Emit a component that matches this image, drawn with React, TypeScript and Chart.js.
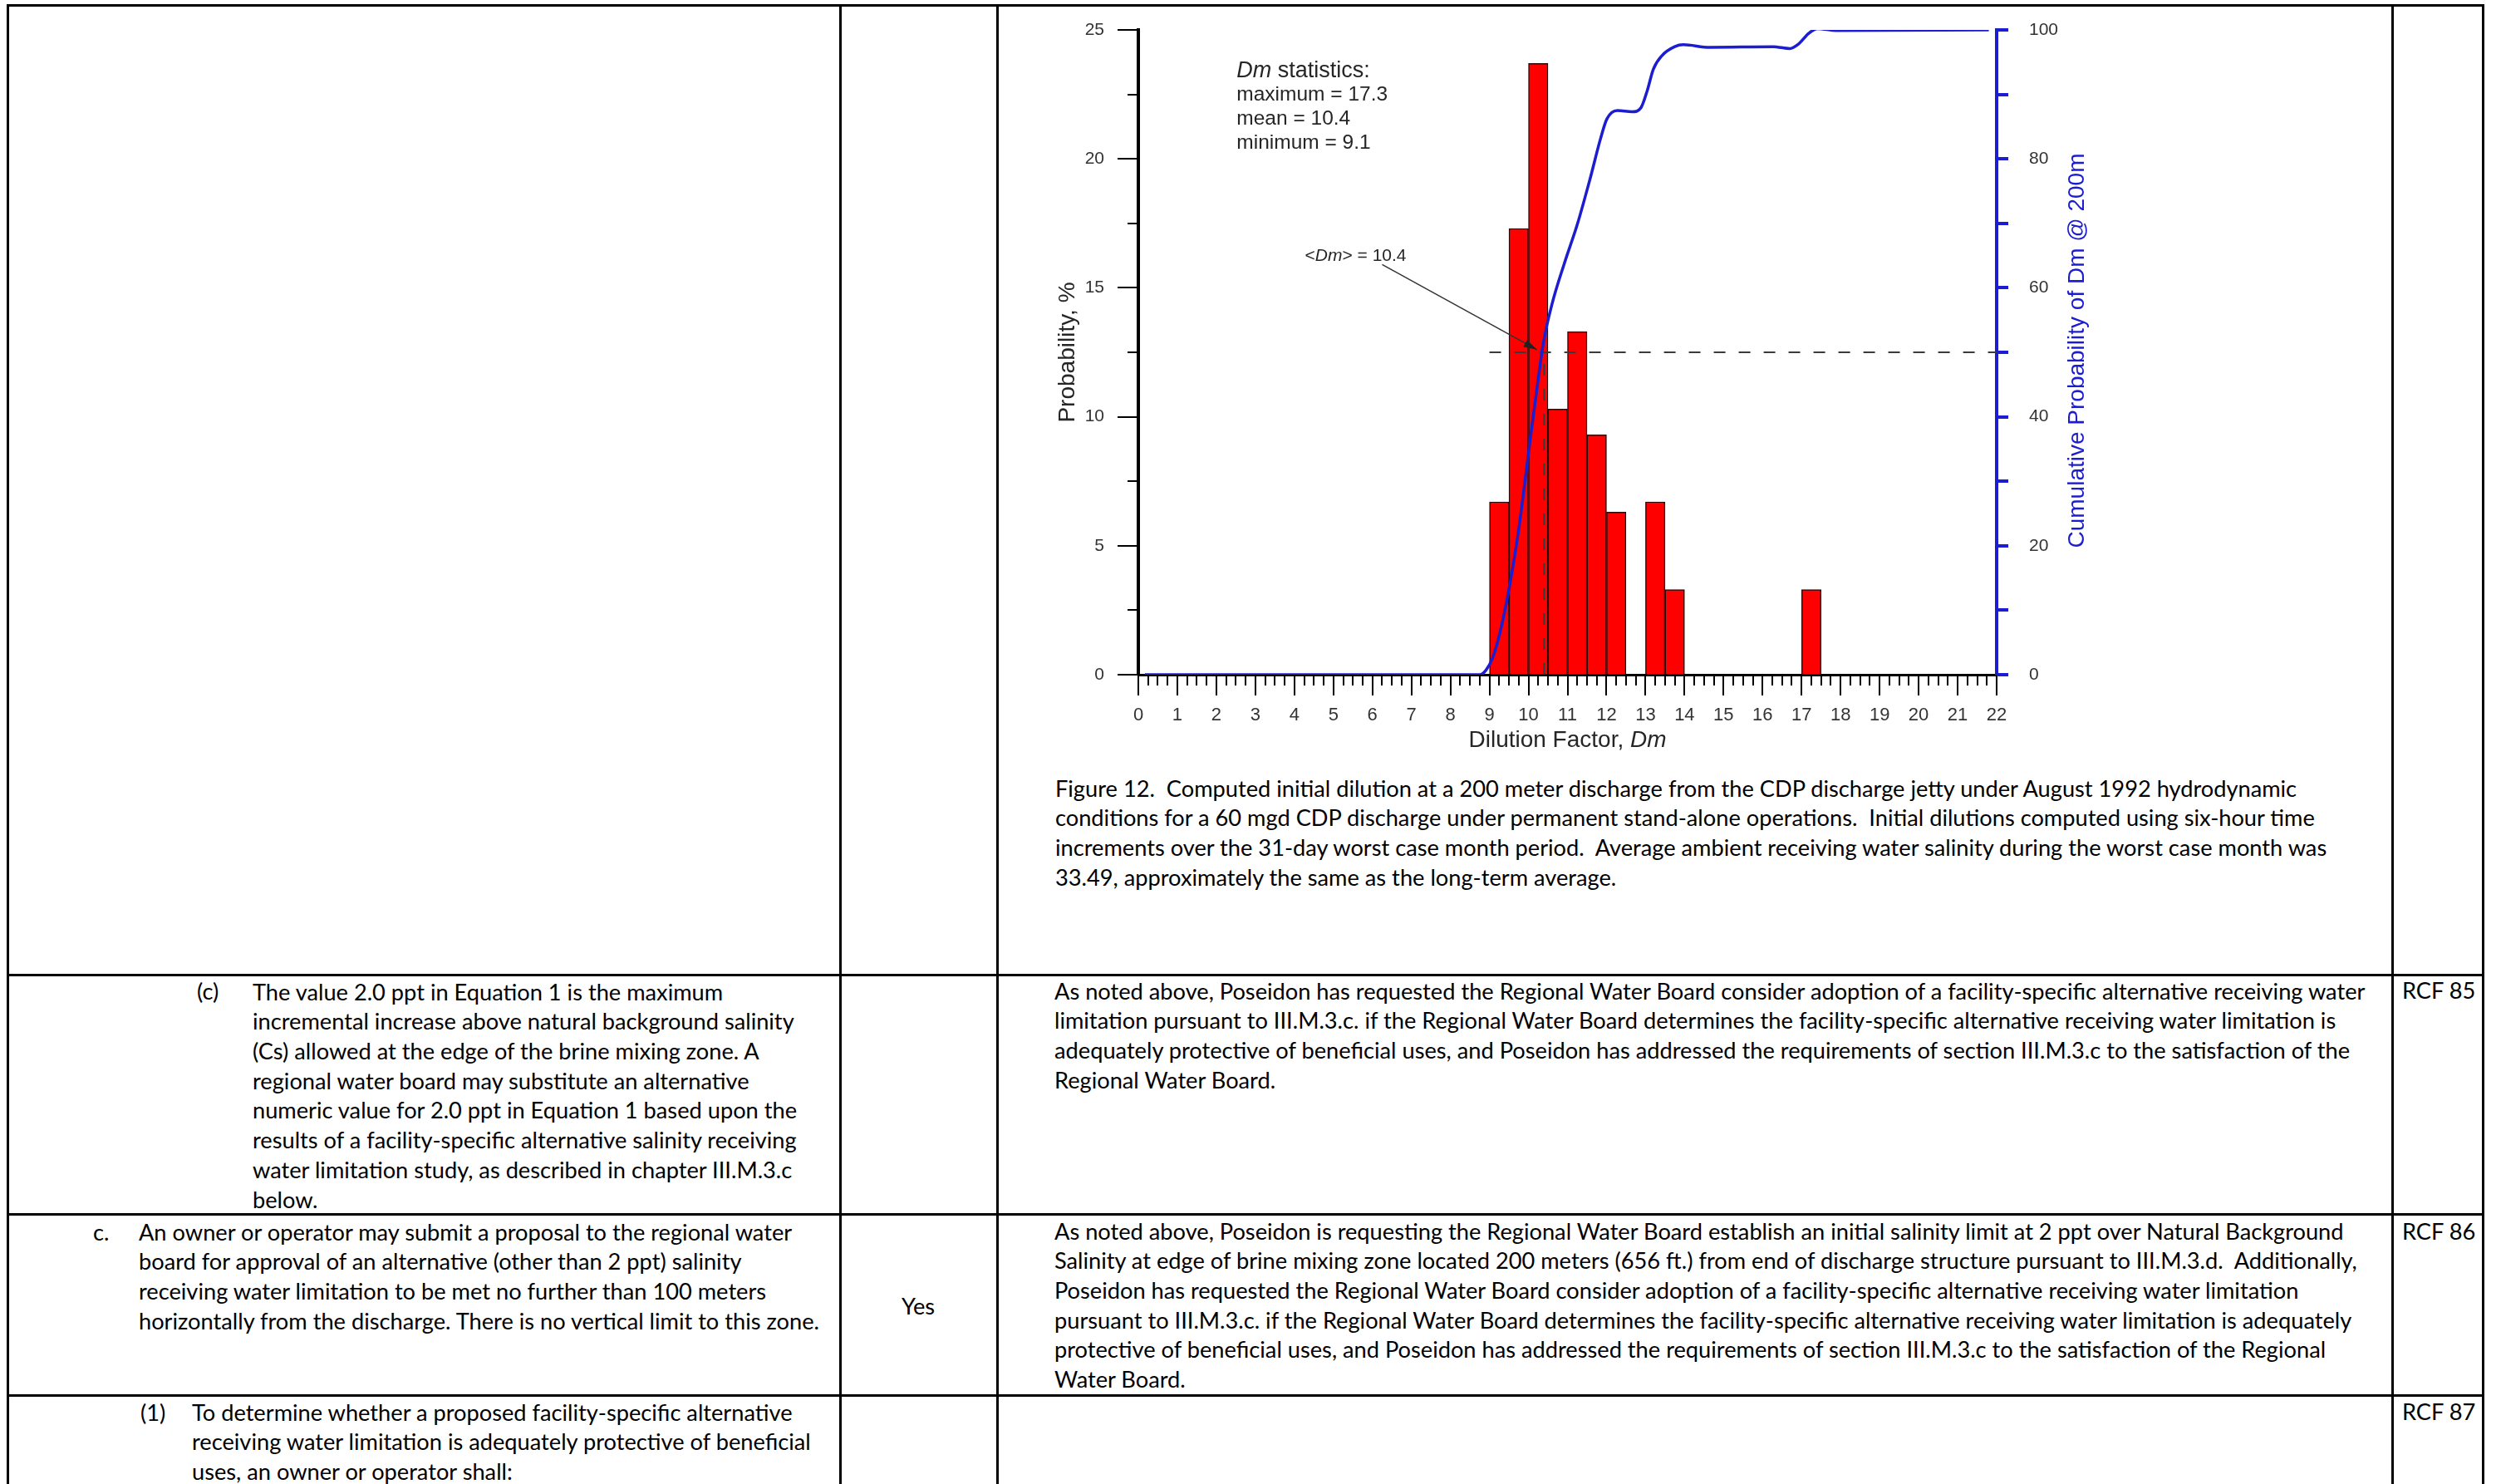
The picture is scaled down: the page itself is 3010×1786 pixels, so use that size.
import React, { useEffect, useRef, useMemo } from 'react';
import { Chart, registerables } from 'chart.js';

Chart.register(...registerables);

// ---------------- chart data ----------------
const binCenters = [9.25, 9.75, 10.25, 10.75, 11.25, 11.75, 12.25, 13.25, 13.75, 17.25];
const binProbability = [6.7, 17.3, 23.7, 10.3, 13.3, 9.3, 6.3, 6.7, 3.3, 3.3];

const cumDm = [0.17, 2, 4, 6, 8, 8.75, 8.91, 9.08, 9.24, 9.4, 9.56, 9.73, 9.89, 10.05, 10.22, 10.38, 10.6, 10.92, 11.25, 11.57, 11.85, 12.01, 12.28, 12.66, 12.88, 13.04, 13.2, 13.42, 13.75, 13.97, 14.64, 16.27, 16.7, 16.92, 17.19, 17.41, 17.89, 21.8];
const cumProbability = [0, 0, 0, 0, 0, 0, 0.7, 2.6, 5.8, 10.1, 15.3, 21.7, 29, 36.8, 44.5, 51.4, 57.4, 63.8, 69.8, 76.7, 83.2, 86.2, 87.5, 87.3, 87.9, 90.5, 93.9, 96.0, 97.4, 97.7, 97.3, 97.4, 97.1, 97.8, 99.5, 100.2, 99.9, 100];

const meanDm = 10.4;
const medianCum = 50;
const medianLineStart = 9;
const xMin = 0;
const xMax = 22;
const probMax = 25;
const cumMax = 100;

const statsTitle = 'statistics:';
const statsLines = ['maximum = 17.3', 'mean = 10.4', 'minimum = 9.1'];
const meanLabel = '> = 10.4';
const xTitle = 'Dilution Factor, ';
const yTitle = 'Probability, %';
const y2Title = 'Cumulative Probability of Dm @ 200m';

// ---------------- table text ----------------
const captionLines = [
  'Figure 12.  Computed initial dilution at a 200 meter discharge from the CDP discharge jetty under August 1992 hydrodynamic',
  'conditions for a 60 mgd CDP discharge under permanent stand-alone operations.  Initial dilutions computed using six-hour time',
  'increments over the 31-day worst case month period.  Average ambient receiving water salinity during the worst case month was',
  '33.49, approximately the same as the long-term average.',
];
const rowCLeft = [
  'The value 2.0 ppt in Equation 1 is the maximum',
  'incremental increase above natural background salinity',
  '(Cs) allowed at the edge of the brine mixing zone. A',
  'regional water board may substitute an alternative',
  'numeric value for 2.0 ppt in Equation 1 based upon the',
  'results of a facility-specific alternative salinity receiving',
  'water limitation study, as described in chapter III.M.3.c',
  'below.',
];
const rowCRight = [
  'As noted above, Poseidon has requested the Regional Water Board consider adoption of a facility-specific alternative receiving water',
  'limitation pursuant to III.M.3.c. if the Regional Water Board determines the facility-specific alternative receiving water limitation is',
  'adequately protective of beneficial uses, and Poseidon has addressed the requirements of section III.M.3.c to the satisfaction of the',
  'Regional Water Board.',
];
const rowDotCLeft = [
  'An owner or operator may submit a proposal to the regional water',
  'board for approval of an alternative (other than 2 ppt) salinity',
  'receiving water limitation to be met no further than 100 meters',
  'horizontally from the discharge. There is no vertical limit to this zone.',
];
const rowDotCRight = [
  'As noted above, Poseidon is requesting the Regional Water Board establish an initial salinity limit at 2 ppt over Natural Background',
  'Salinity at edge of brine mixing zone located 200 meters (656 ft.) from end of discharge structure pursuant to III.M.3.d.  Additionally,',
  'Poseidon has requested the Regional Water Board consider adoption of a facility-specific alternative receiving water limitation',
  'pursuant to III.M.3.c. if the Regional Water Board determines the facility-specific alternative receiving water limitation is adequately',
  'protective of beneficial uses, and Poseidon has addressed the requirements of section III.M.3.c to the satisfaction of the Regional',
  'Water Board.',
];
const row1Left = [
  'To determine whether a proposed facility-specific alternative',
  'receiving water limitation is adequately protective of beneficial',
  'uses, an owner or operator shall:',
];

const BLUE = '#1c1cd0';
const INK = '#262626';
const AXIS_FONT = '"Liberation Sans", Arial, sans-serif';
const BODY_FONT = 'Lato, "Open Sans", sans-serif';
const BODY_SIZE = 26;
const LINE_STEP = 35.7;

type Part = { t: string; i?: boolean };

function drawRich(ctx: CanvasRenderingContext2D, parts: Part[], x: number, y: number, size: number, align: 'left' | 'center') {
  const widths = parts.map((p) => {
    ctx.font = `${p.i ? 'italic ' : ''}${size}px ${AXIS_FONT}`;
    return ctx.measureText(p.t).width;
  });
  const total = widths.reduce((a, b) => a + b, 0);
  let cx = align === 'center' ? x - total / 2 : x;
  ctx.textAlign = 'left';
  ctx.textBaseline = 'middle';
  parts.forEach((p, idx) => {
    ctx.font = `${p.i ? 'italic ' : ''}${size}px ${AXIS_FONT}`;
    ctx.fillText(p.t, cx, y);
    cx += widths[idx];
  });
}

const decorPlugin = {
  id: 'decor',
  afterDraw(chart: any) {
    const { ctx, chartArea } = chart;
    const xs = chart.scales.x;
    const ys = chart.scales.y;
    const y2 = chart.scales.y2;
    ctx.save();
    // left ticks
    ctx.strokeStyle = '#000';
    ctx.lineWidth = 2;
    for (let v = 0; v <= probMax + 1e-6; v += 2.5) {
      const py = Math.round(ys.getPixelForValue(v));
      const len = Math.abs(v % 5) < 1e-6 ? 25 : 13;
      ctx.beginPath();
      ctx.moveTo(chartArea.left - len, py);
      ctx.lineTo(chartArea.left, py);
      ctx.stroke();
    }
    // bottom ticks
    for (let v = xMin; v <= xMax + 1e-6; v += 0.25) {
      const px = Math.round(xs.getPixelForValue(v));
      const len = Math.abs(v - Math.round(v)) < 1e-6 ? 25 : 13;
      ctx.beginPath();
      ctx.moveTo(px, chartArea.bottom);
      ctx.lineTo(px, chartArea.bottom + len);
      ctx.stroke();
    }
    // right ticks
    ctx.strokeStyle = BLUE;
    ctx.lineWidth = 4;
    for (let v = 0; v <= cumMax + 1e-6; v += 10) {
      const py = Math.round(y2.getPixelForValue(v));
      ctx.beginPath();
      ctx.moveTo(chartArea.right, py);
      ctx.lineTo(chartArea.right + 14, py);
      ctx.stroke();
    }
    // titles
    ctx.fillStyle = INK;
    const midY = (chartArea.top + chartArea.bottom) / 2;
    drawRich(ctx, [{ t: xTitle }, { t: 'Dm', i: true }], (chartArea.left + chartArea.right) / 2, chartArea.bottom + 79, 28, 'center');
    ctx.save();
    ctx.translate(chartArea.left - 85, midY);
    ctx.rotate(-Math.PI / 2);
    drawRich(ctx, [{ t: yTitle }], 0, 0, 28, 'center');
    ctx.restore();
    ctx.save();
    ctx.fillStyle = BLUE;
    ctx.translate(chartArea.right + 97, midY - 2);
    ctx.rotate(-Math.PI / 2);
    drawRich(ctx, [{ t: y2Title }], 0, 0, 28, 'center');
    ctx.restore();

    // statistics box
    ctx.fillStyle = INK;
    const sx = xs.getPixelForValue(2.52);
    const sy = ys.getPixelForValue(23.41);
    drawRich(ctx, [{ t: 'Dm', i: true }, { t: ' ' + statsTitle }], sx, sy, 27, 'left');
    statsLines.forEach((s, i) => {
      drawRich(ctx, [{ t: s }], sx, sy + 28.5 + i * 29.3, 24.5, 'left');
    });

    // mean label + arrow
    drawRich(ctx, [{ t: '<' }, { t: 'Dm', i: true }, { t: meanLabel }], xs.getPixelForValue(5.57), ys.getPixelForValue(16.23), 21, 'center');
    const ax1 = xs.getPixelForValue(6.25), ay1 = ys.getPixelForValue(15.9);
    const ax2 = xs.getPixelForValue(10.22), ay2 = ys.getPixelForValue(12.6);
    ctx.strokeStyle = '#333';
    ctx.fillStyle = '#222';
    ctx.lineWidth = 1.5;
    ctx.beginPath();
    ctx.moveTo(ax1, ay1);
    ctx.lineTo(ax2, ay2);
    ctx.stroke();
    const ang = Math.atan2(ay2 - ay1, ax2 - ax1);
    const hl = 17;
    ctx.beginPath();
    ctx.moveTo(ax2, ay2);
    ctx.lineTo(ax2 - hl * Math.cos(ang - 0.28), ay2 - hl * Math.sin(ang - 0.28));
    ctx.lineTo(ax2 - hl * Math.cos(ang + 0.28), ay2 - hl * Math.sin(ang + 0.28));
    ctx.closePath();
    ctx.fill();
    ctx.restore();
  },
};

const CANVAS_LEFT = 1205;
const CANVAS_TOP = 10;
const CANVAS_W = 1670;
const CANVAS_H = 900;

function TextLine({ x, y, text, k, center }: { x: number; y: number; text: string; k: number; center?: boolean }) {
  return (
    <div
      style={{
        position: 'absolute',
        left: x,
        top: y - 16.4,
        fontFamily: BODY_FONT,
        fontSize: BODY_SIZE,
        lineHeight: 1.2,
        whiteSpace: 'pre',
        color: '#000',
        transform: center ? `translateX(-50%) scaleX(${k})` : `scaleX(${k})`,
        transformOrigin: center ? 'center center' : 'left center',
      }}
    >
      {text}
    </div>
  );
}

function Block({ x, y0, lines, k }: { x: number; y0: number; lines: string[]; k: number }) {
  return (
    <>
      {lines.map((t, i) => (
        <TextLine key={i} x={x} y={y0 + i * LINE_STEP} text={t} k={k} />
      ))}
    </>
  );
}

export default function App() {
  const canvasRef = useRef<HTMLCanvasElement>(null);

  const k = useMemo(() => {
    const c = document.createElement('canvas').getContext('2d');
    if (!c) return 0.89;
    c.font = `${BODY_SIZE}px ${BODY_FONT}`;
    const w = c.measureText(rowCRight[0]).width;
    return w > 0 ? 1580 / w : 0.89;
  }, []);

  useEffect(() => {
    const canvas = canvasRef.current;
    if (!canvas) return;
    const noVPad = (w: number) => (s: any) => {
      s.width = w;
      s.paddingTop = 0;
      s.paddingBottom = 0;
    };
    const chart = new Chart(canvas, {
      type: 'bar',
      data: {
        datasets: [
          {
            type: 'line',
            label: 'Cumulative probability',
            data: cumDm.map((x, i) => ({ x, y: cumProbability[i] })),
            yAxisID: 'y2',
            borderColor: BLUE,
            borderWidth: 3.5,
            pointRadius: 0,
            cubicInterpolationMode: 'monotone',
            fill: false,
            order: 0,
          },
          {
            type: 'line',
            label: 'Median level',
            data: [{ x: medianLineStart, y: medianCum }, { x: xMax, y: medianCum }],
            yAxisID: 'y2',
            borderColor: '#3a3a3a',
            borderWidth: 2,
            borderDash: [14, 16],
            pointRadius: 0,
            fill: false,
            order: 1,
          },
          {
            type: 'line',
            label: 'Mean Dm',
            data: [{ x: meanDm, y: 0 }, { x: meanDm, y: medianCum }],
            yAxisID: 'y2',
            borderColor: '#3a3a3a',
            borderWidth: 2,
            borderDash: [14, 16],
            pointRadius: 0,
            fill: false,
            order: 1,
          },
          {
            type: 'bar',
            label: 'Probability',
            data: binCenters.map((x, i) => ({ x, y: binProbability[i] })),
            yAxisID: 'y',
            backgroundColor: '#ff0000',
            borderColor: '#2a0a0a',
            borderWidth: 1.5,
            barPercentage: 1,
            categoryPercentage: 1,
            order: 2,
          },
        ] as any,
      },
      options: {
        responsive: false,
        animation: false,
        devicePixelRatio: 1,
        layout: { padding: { top: 26, left: 0, right: 0, bottom: 0 } },
        plugins: { legend: { display: false }, tooltip: { enabled: false }, title: { display: false } },
        scales: {
          x: {
            type: 'linear',
            min: xMin,
            max: xMax,
            offset: false,
            position: 'bottom',
            grid: { display: true, drawOnChartArea: false, drawTicks: false, offset: false },
            border: { display: true, color: '#000', width: 3 },
            ticks: { stepSize: 1, autoSkip: false, maxRotation: 0, padding: 36, color: '#333', font: { family: AXIS_FONT, size: 22 } },
            afterFit: (s: any) => { s.height = 98; },
          },
          y: {
            type: 'linear',
            position: 'left',
            min: 0,
            max: probMax,
            grid: { display: true, drawOnChartArea: false, drawTicks: false },
            border: { display: true, color: '#000', width: 4 },
            ticks: {
              stepSize: 2.5,
              autoSkip: false,
              padding: 41,
              color: '#333',
              font: { family: AXIS_FONT, size: 21 },
              callback: (v: any) => (Math.abs(Number(v) % 5) < 1e-6 ? String(v) : ''),
            },
            afterFit: noVPad(165),
          },
          y2: {
            type: 'linear',
            position: 'right',
            min: 0,
            max: cumMax,
            grid: { display: true, drawOnChartArea: false, drawTicks: false },
            border: { display: true, color: BLUE, width: 4 },
            ticks: {
              stepSize: 10,
              autoSkip: false,
              padding: 39,
              color: '#333',
              font: { family: AXIS_FONT, size: 21 },
              callback: (v: any) => (Math.abs(Number(v) % 20) < 1e-6 ? String(v) : ''),
            },
            afterFit: noVPad(472),
          },
        },
      } as any,
      plugins: [decorPlugin],
    });
    return () => chart.destroy();
  }, []);

  const hLines = [5, 1171.5, 1460, 1678];
  const vLines = [8, 1009.5, 1199, 2877.5, 2987];

  return (
    <div style={{ position: 'absolute', left: 0, top: 0, width: 3010, height: 1786, background: '#fff', overflow: 'hidden' }}>
      {hLines.map((y, i) => (
        <div key={'h' + i} style={{ position: 'absolute', left: 8, top: y, width: 2982, height: 3, background: '#000' }} />
      ))}
      {vLines.map((x, i) => (
        <div key={'v' + i} style={{ position: 'absolute', left: x, top: 5, width: 3, height: 1781, background: '#000' }} />
      ))}
      <canvas
        ref={canvasRef}
        width={CANVAS_W}
        height={CANVAS_H}
        style={{ position: 'absolute', left: CANVAS_LEFT, top: CANVAS_TOP, width: CANVAS_W, height: CANVAS_H }}
      />
      <Block x={1270} y0={950} lines={captionLines} k={k} />

      <TextLine x={237} y={1194} text="(c)" k={k} />
      <Block x={304} y0={1195} lines={rowCLeft} k={k} />
      <Block x={1269} y0={1194} lines={rowCRight} k={k} />
      <TextLine x={2891} y={1193} text="RCF 85" k={k} />

      <TextLine x={112} y={1484} text="c." k={k} />
      <Block x={167} y0={1484} lines={rowDotCLeft} k={k} />
      <TextLine x={1105} y={1573} text="Yes" k={k} center />
      <Block x={1269} y0={1483} lines={rowDotCRight} k={k} />
      <TextLine x={2891} y={1483} text="RCF 86" k={k} />

      <TextLine x={169} y={1701} text="(1)" k={k} />
      <Block x={231} y0={1701} lines={row1Left} k={k} />
      <TextLine x={2891} y={1700} text="RCF 87" k={k} />
    </div>
  );
}
